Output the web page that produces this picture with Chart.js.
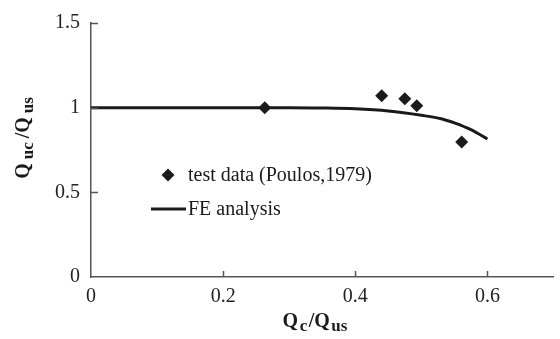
<!DOCTYPE html>
<html>
<head>
<meta charset="utf-8">
<script src="https://cdn.jsdelivr.net/npm/chart.js@4.4.1/dist/chart.umd.min.js"></script>
<style>
  html, body { margin: 0; padding: 0; background: #fff; }
  #wrap { width: 560px; height: 339px; }
</style>
</head>
<body>
<div id="wrap"><canvas id="chart" width="560" height="339"></canvas></div>
<script>
// test data (Poulos, 1979)
const testX = [0.263, 0.440, 0.475, 0.493, 0.561];
const testY = [1.0, 1.07, 1.052, 1.012, 0.797];

// FE analysis curve
const feX = [0, 0.1, 0.2, 0.3, 0.35, 0.4, 0.45, 0.5, 0.53, 0.55, 0.575, 0.6];
const feY = [1.0, 1.0, 1.0, 1.0, 0.998, 0.993, 0.98, 0.955, 0.935, 0.91, 0.87, 0.815];

const xTicks = [0, 0.2, 0.4, 0.6];
const yTicks = [0, 0.5, 1, 1.5];

const FONT = "'Liberation Serif', 'Times New Roman', serif";
const INK = "#1a1a1a";

// draws inward tick marks, axis titles with subscripts and the in-plot legend
const extras = {
  id: "extras",
  afterDraw(chart) {
    const ctx = chart.ctx;
    const xs = chart.scales.x, ys = chart.scales.y;
    const area = chart.chartArea;
    ctx.save();

    // inward tick marks
    ctx.strokeStyle = "#555";
    ctx.lineWidth = 1.5;
    xTicks.forEach(v => {
      if (v === 0) return;
      const px = Math.round(xs.getPixelForValue(v)) + 0.5;
      ctx.beginPath();
      ctx.moveTo(px, area.bottom);
      ctx.lineTo(px, area.bottom - 6);
      ctx.stroke();
    });
    yTicks.forEach(v => {
      if (v === 0) return;
      const py = Math.round(ys.getPixelForValue(v)) + 0.5;
      ctx.beginPath();
      ctx.moveTo(area.left, py);
      ctx.lineTo(area.left + 7, py);
      ctx.stroke();
    });

    // axis titles
    const sub = (parts, x, y, gap) => {
      // parts: [text, isSub]
      const fnt = p => (p[1] ? "bold 17px " : "bold 20px ") + FONT;
      let w = 0;
      parts.forEach((p, i) => {
        ctx.font = fnt(p);
        w += ctx.measureText(p[0]).width + (i < parts.length - 1 ? gap : 0);
      });
      let cx = x - w / 2;
      ctx.textBaseline = "alphabetic";
      ctx.textAlign = "left";
      parts.forEach(p => {
        ctx.font = fnt(p);
        ctx.fillText(p[0], cx, y + (p[1] ? 4 : 0));
        cx += ctx.measureText(p[0]).width + gap;
      });
    };
    ctx.fillStyle = INK;
    sub([["Q", false], ["c", true], ["/Q", false], ["us", true]], 315, 327, 1.5);

    ctx.save();
    ctx.translate(29, 138);
    ctx.rotate(-Math.PI / 2);
    sub([["Q", false], ["uc", true], ["/Q", false], ["us", true]], 0, 0, 4);
    ctx.restore();

    // legend
    const lx = 168, ly1 = 175, ly2 = 209;
    ctx.beginPath();
    ctx.moveTo(lx, ly1 - 6.5);
    ctx.lineTo(lx + 6.5, ly1);
    ctx.lineTo(lx, ly1 + 6.5);
    ctx.lineTo(lx - 6.5, ly1);
    ctx.closePath();
    ctx.fill();
    ctx.strokeStyle = INK;
    ctx.lineWidth = 3;
    ctx.beginPath();
    ctx.moveTo(151, ly2);
    ctx.lineTo(186, ly2);
    ctx.stroke();
    ctx.font = "20px " + FONT;
    ctx.textBaseline = "middle";
    ctx.fillText(chart.data.datasets[0].label, 188, ly1 + 1);
    ctx.fillText(chart.data.datasets[1].label, 188, ly2 + 1);

    ctx.restore();
  }
};

new Chart(document.getElementById("chart"), {
  type: "scatter",
  data: {
    datasets: [
      {
        label: "test data (Poulos,1979)",
        data: testX.map((x, i) => ({ x: x, y: testY[i] })),
        pointStyle: "rectRot",
        pointRadius: 6.5,
        backgroundColor: INK,
        borderColor: INK,
        borderWidth: 0,
        showLine: false,
        order: 1
      },
      {
        label: "FE analysis",
        data: feX.map((x, i) => ({ x: x, y: feY[i] })),
        showLine: true,
        borderColor: INK,
        borderWidth: 3,
        pointRadius: 0,
        cubicInterpolationMode: "monotone",
        fill: false,
        order: 2
      }
    ]
  },
  options: {
    responsive: false,
    animation: false,
    layout: { padding: { top: 18, right: 0, left: 0, bottom: 0 } },
    plugins: { legend: { display: false }, tooltip: { enabled: false } },
    scales: {
      x: {
        type: "linear",
        min: 0,
        max: 0.7,
        afterFit: s => { s.height = 62; },
        afterBuildTicks: s => { s.ticks = xTicks.map(v => ({ value: v })); },
        grid: { display: true, color: "transparent", drawTicks: false },
        border: { display: true, color: "#555", width: 1.5 },
        ticks: {
          padding: 8,
          color: "#222",
          font: { family: FONT, size: 20 },
          callback: v => String(v)
        }
      },
      y: {
        type: "linear",
        min: 0,
        max: 1.5,
        afterFit: s => { s.width = 91; },
        afterBuildTicks: s => { s.ticks = yTicks.map(v => ({ value: v })); },
        grid: { display: true, color: "transparent", drawTicks: false },
        border: { display: true, color: "#555", width: 1.5 },
        ticks: {
          padding: 11,
          color: "#222",
          font: { family: FONT, size: 20 },
          callback: v => String(v)
        }
      }
    }
  },
  plugins: [extras]
});
</script>
</body>
</html>
